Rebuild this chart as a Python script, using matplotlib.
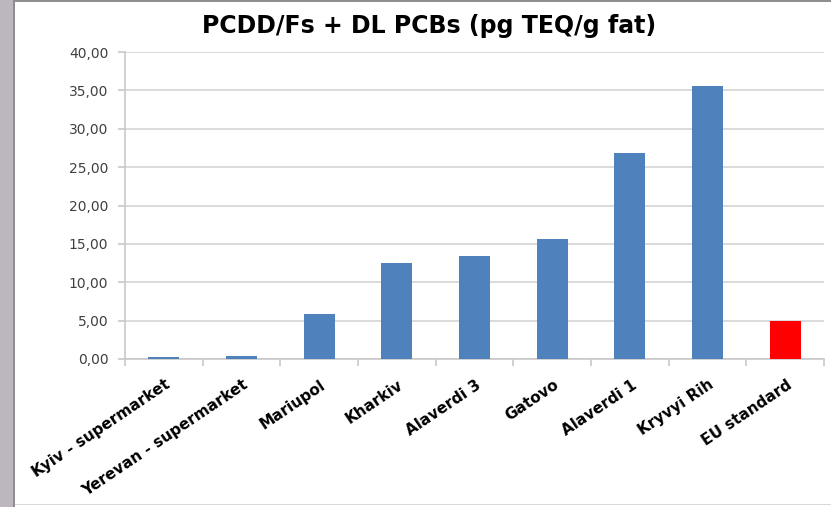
import matplotlib
matplotlib.use("Agg")
import matplotlib.pyplot as plt
from matplotlib.patches import Rectangle
from matplotlib.transforms import ScaledTranslation

categories = ["Kyiv - supermarket", "Yerevan - supermarket", "Mariupol", "Kharkiv",
              "Alaverdi 3", "Gatovo", "Alaverdi 1", "Kryvyi Rih", "EU standard"]
values = [0.3, 0.4, 5.8, 12.5, 13.4, 15.6, 26.9, 35.6, 5.0]
bar_colors = ["#4f81bd"] * 8 + ["#ff0000"]
yticks = [0, 5, 10, 15, 20, 25, 30, 35, 40]
ytick_labels = ["0,00", "5,00", "10,00", "15,00", "20,00", "25,00", "30,00", "35,00", "40,00"]
title = "PCDD/Fs + DL PCBs (pg TEQ/g fat)"

W, H = 831, 507
fig = plt.figure(figsize=(W / 100, H / 100), dpi=100)
fig.patch.set_facecolor("white")

# frame decorations
fig.patches.append(Rectangle((0, 0), 13 / W, 1, transform=fig.transFigure,
                             facecolor="#bcb7bf", edgecolor="none", zorder=0))
fig.patches.append(Rectangle((13 / W, 0), 2 / W, 1, transform=fig.transFigure,
                             facecolor="#8e8c90", edgecolor="none", zorder=0))
fig.patches.append(Rectangle((13 / W, 1 - 2 / H), 1, 2 / H, transform=fig.transFigure,
                             facecolor="#8e8e8e", edgecolor="none", zorder=0))
fig.patches.append(Rectangle((15 / W, 2 / H), 1, 1.5 / H, transform=fig.transFigure,
                             facecolor="#d8d8d8", edgecolor="none", zorder=0))

left, right = 125, 824
top, bottom = 52, 359
ax = fig.add_axes([left / W, 1 - bottom / H, (right - left) / W, (bottom - top) / H])
ax.set_facecolor("none")

x = list(range(len(categories)))
ax.bar(x, values, width=0.4, color=bar_colors, edgecolor="none", zorder=3)

ax.set_xlim(-0.5, len(categories) - 0.5)
ax.set_ylim(0, 40)
ax.set_yticks(yticks)
ax.set_yticklabels(ytick_labels, fontsize=10, color="#404040", family="DejaVu Sans")
ax.yaxis.grid(True, color="#d4d4d4", linewidth=1.2, zorder=0)
ax.set_axisbelow(True)

for s in ["top", "right"]:
    ax.spines[s].set_visible(False)
ax.spines["left"].set_color("#c8c8c8")
ax.spines["bottom"].set_color("#c8c8c8")
ax.spines["left"].set_linewidth(1.2)
ax.spines["bottom"].set_linewidth(1.2)

ax.tick_params(axis="y", length=5, color="#c8c8c8", width=1.2, pad=7)
# category boundary ticks
ax.set_xticks([i - 0.5 for i in range(len(categories) + 1)], minor=False)
ax.set_xticklabels([])
ax.tick_params(axis="x", which="major", length=5, color="#c8c8c8", width=1.2)
ax.set_xticks(x, minor=True)
ax.set_xticklabels(categories, minor=True, rotation=34, ha="right", va="top",
                   rotation_mode="anchor", fontsize=11, fontweight="bold", color="#000000")
ax.tick_params(axis="x", which="minor", length=0, pad=13)
offset = ScaledTranslation(1 / 100, 0, fig.dpi_scale_trans)
for lbl in ax.get_xticklabels(minor=True):
    lbl.set_transform(lbl.get_transform() + offset)

fig.text(429 / W, 1 - 26 / H, title, ha="center", va="center",
         fontsize=17, fontweight="bold", color="#000000")

fig.savefig("out.png", dpi=100, facecolor="white")
